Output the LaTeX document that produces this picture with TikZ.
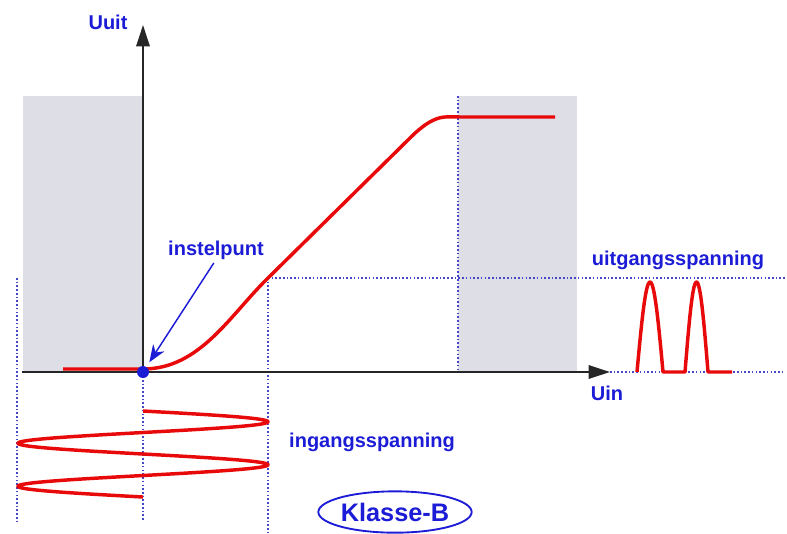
\documentclass[tikz,border=0pt]{standalone}
\usepackage{fontspec}
\setmainfont{Liberation Sans}
\usetikzlibrary{arrows.meta,shapes.geometric}
\definecolor{LblBlue}{RGB}{28,28,215}
\definecolor{SigRed}{RGB}{232,10,10}
\definecolor{ZoneGray}{RGB}{222,222,231}
\definecolor{GuideBlue}{RGB}{70,70,200}
\tikzset{
  lbl/.style={text=LblBlue,font=\fontsize{15}{18}\selectfont\bfseries,inner sep=0pt},
  axisarrow/.style={-{Triangle[length=16pt,width=10pt]},line width=1.5pt,black!85},
  guide/.style={GuideBlue,line width=1pt,dash pattern=on 1.2pt off 1.6pt},
  signal/.style={SigRed,line width=2.6pt,line join=round},
  zone/.style={fill=ZoneGray},
  pointer/.style={-{Stealth[length=13pt,width=10pt]},LblBlue,line width=1.1pt},
  klasse/.style={ellipse,draw=LblBlue,line width=1.4pt,text=LblBlue,
                 minimum width=108pt,minimum height=31pt,inner sep=0pt,
                 font=\fontsize{19}{22}\selectfont\bfseries},
}

\begin{document}
\begin{tikzpicture}[x=0.75pt,y=-0.75pt]
  \useasboundingbox (0,0) rectangle (787,533);
  % gebieden
  \fill[zone] (23,96) rectangle (143,372);
  \fill[zone] (458,96) rectangle (577,372);
  % hulplijnen
  \coordinate (o) at (143,372);
  \coordinate (wp) at (268,278);
  \draw[guide] (17,278) -- (17,523);
  \draw[guide] (143,380) -- (143,520);
  \draw[guide] (wp) -- (268,533);
  \draw[guide] (wp) -- (785,278);
  \draw[guide] (458,96) -- (458,372);
  \draw[guide] (610,372) -- (785,372);
  % karakteristiek
  \draw[signal] (63,369) -- (143,369) .. controls (200,369) and (230,315) .. (wp)
    -- (410,138) .. controls (435,113) and (445,117) .. (460,117) -- (555,117);
  % ingangsspanning
  \draw[signal] plot[domain=0:86,samples=240,variable=\t]
    ({143+125*sin(8.3721*\t)},{411+\t});
  % uitgangsspanning
  \draw[signal] plot[domain=0:26,samples=40,variable=\t]
    ({637+\t},{372-90*sin(6.9231*\t)})
    -- (685,372) -- plot[domain=0:23,samples=40,variable=\t]
    ({685+\t},{372-90*sin(7.8261*\t)}) -- (732,372);
  % assen
  \coordinate (xl) at (22,372);
  \coordinate (xr) at (610,372);
  \coordinate (yt) at (143,25);
  \draw[axisarrow] (xl) -- (xr);
  \draw[axisarrow] (o) -- (yt);
  \node[circle,fill=LblBlue,minimum size=9pt,inner sep=0pt] (ip) at (o) {};
  % teksten
  \node[lbl] (uuit) at (108,22) {Uuit};
  \node[lbl] (uin) at (607,393) {Uin};
  \node[lbl] (instelpunt) at (216,250) {instelpunt};
  \node[lbl] (uitgang) at (678,260) {uitgangsspanning};
  \node[lbl] (ingang) at (372,442) {ingangsspanning};
  \node[klasse] (klasse) at (395,512) {Klasse-B};
  \draw[pointer,shorten <=3pt,shorten >=4pt] (instelpunt.south) -- (ip);
\end{tikzpicture}
\end{document}
